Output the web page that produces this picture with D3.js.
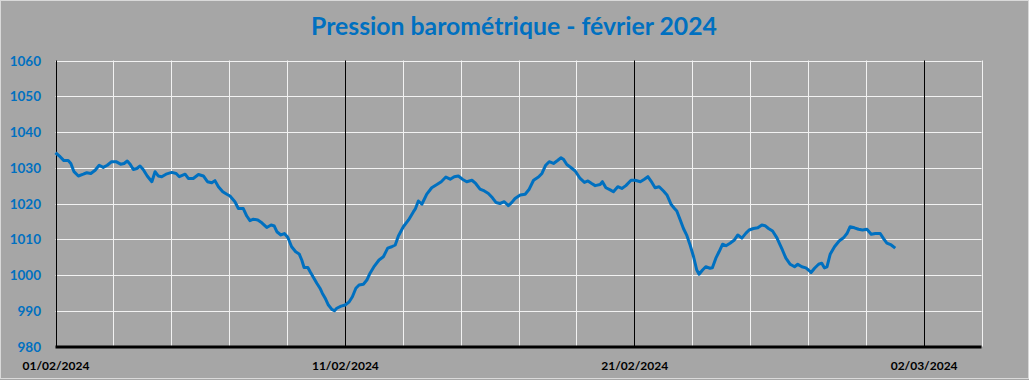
<!DOCTYPE html>
<html>
<head>
<meta charset="utf-8">
<script src="https://cdn.jsdelivr.net/npm/d3@7"></script>
<style>
  body { margin: 0; background: #a6a6a6; }
  svg { display: block; }
</style>
</head>
<body>
<div id="chart"></div>
<script>
const width = 1029, height = 380;

// days elapsed since 01/02/2024 00:00, and pressure (hPa)
const days = [
  0, 0.16, 0.29, 0.44, 0.53, 0.64, 0.79, 0.96, 1.08, 1.22, 1.37, 1.51, 1.65, 1.79, 1.94, 2.09,
  2.25, 2.37, 2.48, 2.58, 2.69, 2.81, 2.92, 3.03, 3.17, 3.33, 3.44, 3.55, 3.67, 3.82, 4.02, 4.17,
  4.28, 4.48, 4.59, 4.76, 4.94, 5.11, 5.25, 5.40, 5.51, 5.63, 5.78, 5.92, 6.03, 6.20,
  6.32, 6.49, 6.61, 6.72, 6.84, 6.99, 7.13, 7.30, 7.45, 7.56, 7.65, 7.79, 7.91, 8.03, 8.16, 8.30,
  8.42, 8.51, 8.59, 8.72, 8.80, 8.91, 9.03, 9.14, 9.22, 9.32, 9.43, 9.55, 9.64, 9.72, 9.87, 10.01,
  10.15, 10.26, 10.38, 10.49, 10.64, 10.76, 10.87, 11.02, 11.18, 11.33, 11.48, 11.62, 11.74, 11.85,
  12.02, 12.20, 12.37,
  12.43, 12.54, 12.66, 12.83, 13.00, 13.18, 13.33, 13.49, 13.64, 13.78, 13.92, 14.06, 14.21, 14.39,
  14.52, 14.67, 14.82, 14.96, 15.10, 15.22, 15.36, 15.51, 15.65, 15.77, 15.88, 16.06, 16.23, 16.37,
  16.52, 16.69, 16.81, 16.94, 17.06, 17.21, 17.36, 17.47, 17.55, 17.67, 17.82, 17.96, 18.13, 18.28,
  18.40, 18.53, 18.65, 18.82,
  18.90, 19.02, 19.17, 19.28, 19.43, 19.57, 19.71, 19.89, 20.03, 20.21, 20.35, 20.47, 20.61, 20.72,
  20.86, 21.01, 21.13, 21.27, 21.39, 21.47, 21.59, 21.70, 21.82, 21.93, 22.05, 22.16, 22.24, 22.36,
  22.47, 22.62, 22.70, 22.82, 22.93, 23.05, 23.17, 23.31, 23.46, 23.58, 23.72, 23.86, 23.97, 24.12,
  24.27, 24.41, 24.52, 24.64, 24.78, 24.93, 25.04,
  25.12, 25.24, 25.39, 25.54, 25.65, 25.79, 25.93, 26.02, 26.11, 26.23, 26.37, 26.48, 26.57, 26.66,
  26.77, 26.92, 27.08, 27.23, 27.35, 27.46, 27.61, 27.75, 27.89, 28.04, 28.19, 28.33, 28.50, 28.62,
  28.73, 28.88, 29.02
];
const pressure = [
  1034.2, 1033.1, 1032.0, 1032.0, 1031.2, 1028.9, 1027.7, 1028.2, 1028.6, 1028.4, 1029.3, 1030.7, 1030.1, 1030.7, 1031.7, 1031.7,
  1031.0, 1031.2, 1031.9, 1031.0, 1029.5, 1029.8, 1030.5, 1029.5, 1027.7, 1026.1, 1028.9, 1027.7, 1027.5, 1028.2, 1028.7, 1028.4,
  1027.5, 1028.2, 1027.0, 1027.0, 1028.1, 1027.7, 1026.1, 1025.8, 1026.4, 1024.7, 1023.3, 1022.6, 1022.1, 1020.5,
  1018.6, 1018.6, 1016.5, 1015.2, 1015.6, 1015.4, 1014.6, 1013.3, 1014.0, 1013.7, 1012.1, 1011.2, 1011.6, 1010.5, 1007.9, 1006.5,
  1005.9, 1004.2, 1002.1, 1002.1, 1000.9, 999.4, 997.7, 996.3, 994.9, 993.5, 991.6, 990.4, 990.0, 990.7, 991.3, 991.6,
  992.5, 993.9, 996.3, 997.2, 997.4, 998.6, 1000.5, 1002.5, 1004.2, 1005.1, 1007.5, 1007.9, 1008.4, 1010.9,
  1013.5, 1015.4, 1017.7,
  1018.4, 1020.7, 1019.8, 1022.6, 1024.4, 1025.3, 1026.1, 1027.4, 1026.8, 1027.5, 1027.7, 1026.8, 1026.1, 1026.5,
  1025.6, 1024.0, 1023.5, 1022.8, 1021.6, 1020.3, 1020.0, 1020.5, 1019.4, 1020.3, 1021.4, 1022.4, 1022.6, 1024.0,
  1026.5, 1027.4, 1028.4, 1030.7, 1031.7, 1031.2, 1032.1, 1032.8, 1032.4, 1030.9, 1030.0, 1029.1, 1027.0, 1025.9,
  1026.3, 1025.6, 1025.0, 1025.3,
  1026.1, 1024.4, 1023.8, 1023.3, 1024.7, 1024.2, 1025.0, 1026.5, 1026.5, 1026.1, 1026.8, 1027.5, 1025.9, 1024.4,
  1024.7, 1023.5, 1022.4, 1019.8, 1018.6, 1017.9, 1015.4, 1013.0, 1011.0, 1008.4, 1005.1, 1001.4, 1000.2, 1001.4,
  1002.3, 1001.9, 1002.0, 1004.7, 1006.5, 1008.6, 1008.2, 1008.9, 1009.8, 1011.2, 1010.3, 1011.7, 1012.6, 1013.0,
  1013.2, 1014.0, 1013.8, 1013.0, 1012.3, 1010.4, 1008.4,
  1007.0, 1004.7, 1003.0, 1002.3, 1003.0, 1002.3, 1002.0, 1001.4, 1000.7, 1001.9, 1003.0, 1003.3, 1002.0, 1002.3,
  1005.8, 1007.9, 1009.5, 1010.4, 1011.6, 1013.5, 1013.2, 1012.8, 1012.6, 1012.8, 1011.4, 1011.6, 1011.6, 1010.1,
  1008.9, 1008.4, 1007.5
];
const yTicks = [980, 990, 1000, 1010, 1020, 1030, 1040, 1050, 1060];
const xLabels = ["01/02/2024", "11/02/2024", "21/02/2024", "02/03/2024"];

const start = new Date(2024, 1, 1);
const dayMs = 864e5;
const data = days.map((d, i) => ({ t: new Date(start.getTime() + d * dayMs), v: pressure[i] }));

const svg = d3.select("#chart")
    .append("svg")
    .attr("width", width)
    .attr("height", height);

svg.append("rect")
    .attr("x", 0.5).attr("y", 0.5)
    .attr("width", width - 1).attr("height", height - 2)
    .attr("fill", "#a6a6a6")
    .attr("stroke", "#d9d9d9");

const x = d3.scaleTime()
    .domain([start, new Date(start.getTime() + 32 * dayMs)])
    .range([55.5, 981.5]);

const y = d3.scaleLinear()
    .domain([980, 1060])
    .range([346.5, 60.5]);

// horizontal grid
svg.append("g")
    .selectAll("line")
    .data(yTicks.slice(1))
    .enter().append("line")
    .attr("x1", x.range()[0]).attr("x2", x.range()[1])
    .attr("y1", d => Math.round(y(d)) + 0.5).attr("y2", d => Math.round(y(d)) + 0.5)
    .attr("stroke", "#f2f2f2").attr("stroke-width", 1);

// vertical grid every 2 days, black every 10
const vDays = d3.range(0, 33, 2).concat([10, 20, 30]).sort((a, b) => a - b);
svg.append("g")
    .selectAll("line")
    .data(d3.range(0, 33, 2).filter(d => d % 10 !== 0).concat([0, 10, 20, 30]))
    .enter().append("line")
    .attr("x1", d => Math.round(x(new Date(start.getTime() + d * dayMs))) + 0.5)
    .attr("x2", d => Math.round(x(new Date(start.getTime() + d * dayMs))) + 0.5)
    .attr("y1", y(1060)).attr("y2", y(980))
    .attr("stroke", d => d % 10 === 0 ? "#000" : "#f2f2f2")
    .attr("stroke-width", 1);

// y axis labels
svg.append("g")
    .selectAll("text")
    .data(yTicks)
    .enter().append("text")
    .attr("x", 41)
    .attr("y", d => y(d) + 5)
    .attr("text-anchor", "end")
    .attr("font-family", "Lato, sans-serif")
    .attr("font-weight", "bold")
    .attr("font-size", 13.5)
    .attr("fill", "#0070c0")
    .text(d => d);

// x axis
const xAxis = d3.axisBottom(x)
    .tickValues(xLabels.map(s => d3.timeParse("%d/%m/%Y")(s)))
    .tickFormat(d3.timeFormat("%d/%m/%Y"))
    .tickSize(0)
    .tickPadding(14);

const gx = svg.append("g")
    .attr("transform", `translate(0, ${y(980) + 0.5})`)
    .call(xAxis);
gx.select(".domain")
    .attr("stroke", "#000").attr("stroke-width", 3)
    .attr("d", `M${x.range()[0]},0H${x.range()[1]}`);
gx.selectAll("text")
    .attr("font-family", "Lato, sans-serif")
    .attr("font-weight", "bold")
    .attr("font-size", 12)
    .attr("fill", "#000");

// line
svg.append("path")
    .datum(data)
    .attr("fill", "none")
    .attr("stroke", "#0070c0")
    .attr("stroke-width", 3)
    .attr("stroke-linejoin", "round")
    .attr("d", d3.line().x(d => x(d.t)).y(d => y(d.v)));

// title
svg.append("text")
    .attr("x", 514)
    .attr("y", 35)
    .attr("text-anchor", "middle")
    .attr("font-family", "Lato, sans-serif")
    .attr("font-weight", "bold")
    .attr("font-size", 24)
    .attr("fill", "#0070c0")
    .attr("textLength", 406)
    .attr("lengthAdjust", "spacingAndGlyphs")
    .text("Pression barométrique - février 2024");
</script>
</body>
</html>
